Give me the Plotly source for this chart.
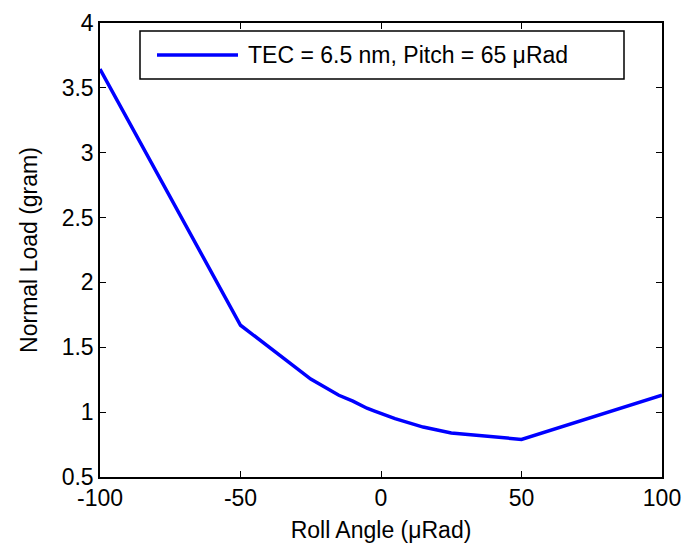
import plotly.graph_objects as go

# Normal load vs roll angle at TEC = 6.5 nm, pitch = 65 µRad
roll_angle = [-100, -50, -25, -15, -10, -7.5, -5, -2.5, 0, 5, 15, 25, 50, 100]
normal_load = [3.645, 1.67, 1.255, 1.13, 1.085, 1.055, 1.03, 1.01, 0.99, 0.95, 0.885, 0.84, 0.79, 1.13]

x_ticks = [-100, -50, 0, 50, 100]
x_tick_text = ["-100", "-50", "0", "50", "100"]
y_ticks = [0.5, 1, 1.5, 2, 2.5, 3, 3.5, 4]
y_tick_text = ["0.5", "1", "1.5", "2", "2.5", "3", "3.5", "4"]
legend_label = "TEC = 6.5 nm, Pitch = 65 \u03bcRad"

FONT = "Liberation Sans, Arial, sans-serif"
BLUE = "#0000ff"

fig = go.Figure()
fig.add_trace(go.Scatter(
    x=roll_angle, y=normal_load, mode="lines",
    line=dict(color=BLUE, width=3.5),
    name=legend_label, showlegend=False,
))

axis_common = dict(
    showgrid=False, zeroline=False, automargin=False,
    showline=True, linecolor="black", linewidth=1.5, mirror="ticks",
    ticks="inside", ticklen=6, tickwidth=1, tickcolor="black",
    tickfont=dict(family=FONT, size=23, color="black"),
)

fig.update_layout(
    width=686, height=550,
    margin=dict(l=100, r=24, t=23, b=73),
    paper_bgcolor="white", plot_bgcolor="white",
    font=dict(family=FONT, size=23, color="black"),
    xaxis=dict(range=[-100, 100], tickvals=x_ticks, ticktext=x_tick_text,
               title=dict(text="Roll Angle (\u03bcRad)", font=dict(size=23), standoff=12),
               **axis_common),
    yaxis=dict(range=[0.5, 4], tickvals=y_ticks, ticktext=y_tick_text,
               title=dict(text="Normal Load (gram)", font=dict(size=23), standoff=18),
               **axis_common),
    showlegend=False,
)

# Boxed legend in the upper part of the axes
fig.add_shape(type="rect", xref="paper", yref="paper",
              x0=(140 - 100) / 562, x1=(624 - 100) / 562,
              y0=(477 - 79) / 454, y1=(477 - 31) / 454,
              line=dict(color="black", width=1.5), fillcolor="white", layer="above")
fig.add_shape(type="line", xref="paper", yref="paper",
              x0=(157 - 100) / 562, x1=(238 - 100) / 562,
              y0=(477 - 55) / 454, y1=(477 - 55) / 454,
              line=dict(color=BLUE, width=3.5), layer="above")
fig.add_annotation(xref="paper", yref="paper",
                   x=(246 - 100) / 562, y=(477 - 55) / 454,
                   xanchor="left", yanchor="middle", showarrow=False,
                   text=legend_label, font=dict(family=FONT, size=23, color="black"))

fig.write_html("out.html")
